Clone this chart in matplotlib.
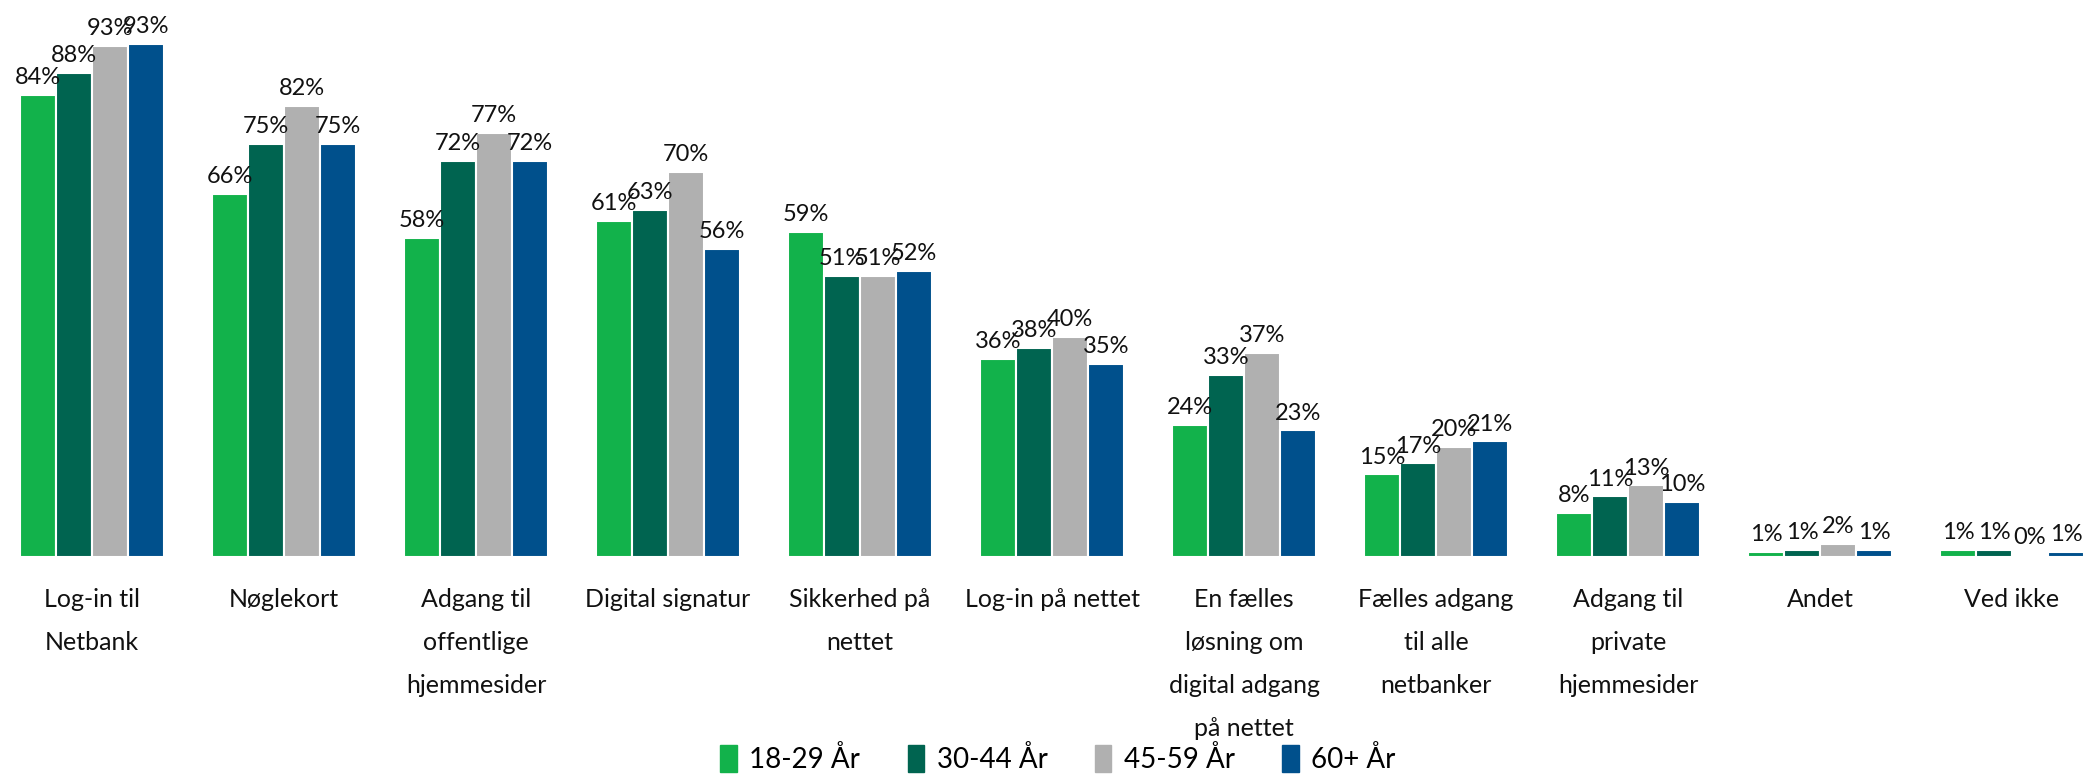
"""Grouped bar chart: login solutions by age group"""

import matplotlib.pyplot as plt
import matplotlib.patches as mpatches
import numpy as np

plt.rcParams['font.family'] = ['Lato', 'DejaVu Sans']

categories = ['Log-in til\nNetbank', 'Nøglekort', 'Adgang til\noffentlige\nhjemmesider',
              'Digital signatur', 'Sikkerhed på\nnettet', 'Log-in på nettet',
              'En fælles\nløsning om\ndigital adgang\npå nettet',
              'Fælles adgang\ntil alle\nnetbanker', 'Adgang til\nprivate\nhjemmesider',
              'Andet', 'Ved ikke']
series = ['18-29 År', '30-44 År', '45-59 År', '60+ År']
age_18_29 = [84, 66, 58, 61, 59, 36, 24, 15, 8, 0.9, 1.2]
age_30_44 = [88, 75, 72, 63, 51, 38, 33, 17, 11, 1.2, 1.2]
age_45_59 = [92.8, 82, 77, 70, 51, 40, 37, 20, 13, 2.3, 0.4]
age_60 = [93.2, 75, 72, 56, 52, 35, 23, 21, 10, 1.2, 0.9]
colors = ['#12B24B', '#006450', '#B0B0B0', '#00508C']


def main():
    fig = plt.figure(figsize=(20.95, 7.78), dpi=100)
    ax = fig.add_axes([0, 0.284, 1, 0.716])

    x = np.arange(len(categories))
    width = 0.1875
    all_vals = [age_18_29, age_30_44, age_45_59, age_60]

    #bars with value labels
    for k, vals in enumerate(all_vals):
        pos = x + (k - 1.5) * width
        ax.bar(pos, vals, width=width, color=colors[k], edgecolor='white', linewidth=1.5)
        for xi, v in zip(pos, vals):
            ax.annotate(f'{round(v)}%', (xi, v), xytext=(0, 5), textcoords='offset points',
                        ha='center', va='bottom', fontsize=17, color='#111111')

    #category labels under the groups
    for i, lab in enumerate(categories):
        ax.text(i, -5.6, lab, ha='center', va='top', fontsize=18, color='#111111',
                linespacing=2.05, clip_on=False)

    ax.set_xlim(-0.479, 10.432)
    ax.set_ylim(0, 101.2)
    ax.axis('off')

    handles = [mpatches.Patch(color=c, label=s) for c, s in zip(colors, series)]
    fig.legend(handles=handles, loc='center', bbox_to_anchor=(0.505, 0.024), ncol=4,
               frameon=False, fontsize=20, handlelength=0.6, handleheight=1.1,
               handletextpad=0.45, columnspacing=1.7)

    fig.savefig('out.png', dpi=100)


if __name__ == "__main__":
    main()
